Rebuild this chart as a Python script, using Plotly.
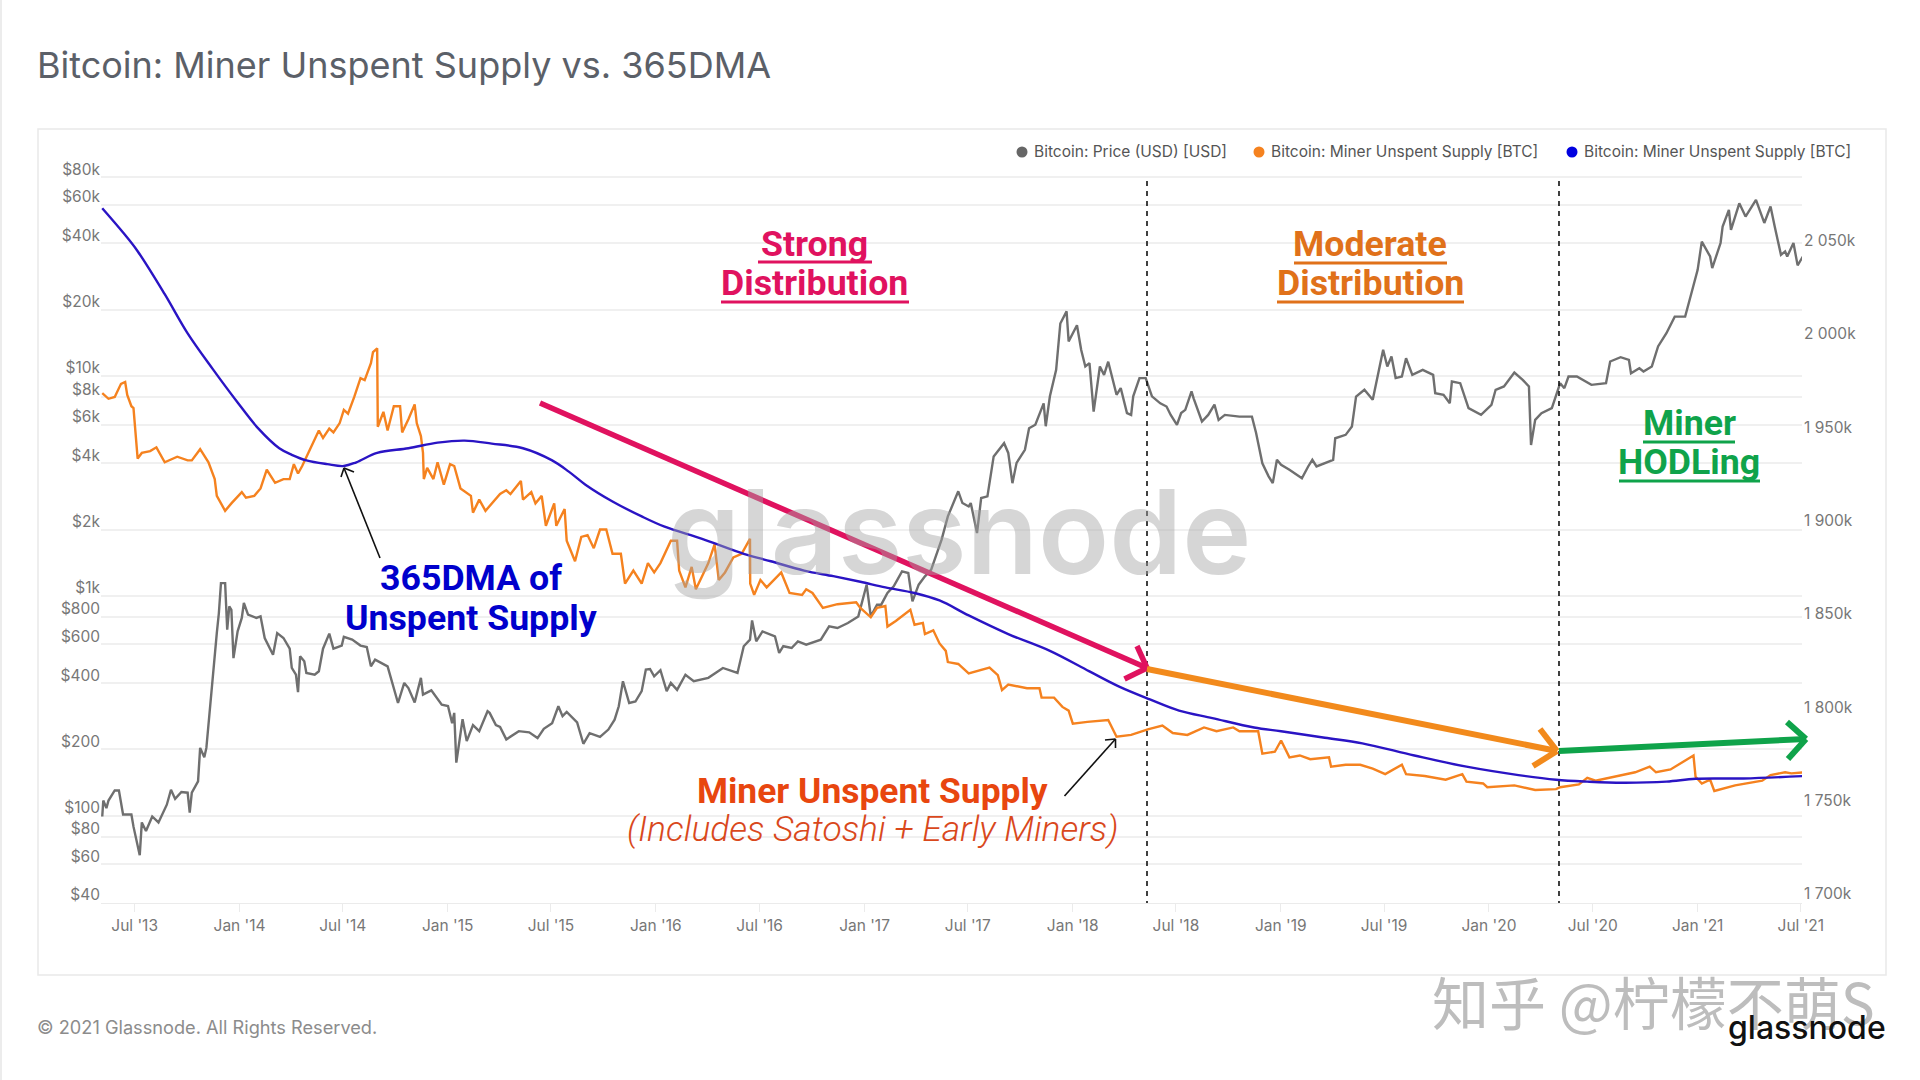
import pandas as pd
import plotly.graph_objects as go

W, H = 1920, 1080
L, R, T, B = 101, 1802, 156, 903

price_years = [2013.34,2013.345,2013.36,2013.37,2013.40,2013.42,2013.44,2013.48,2013.49,2013.52,2013.53,2013.55,2013.58,2013.61,2013.65,2013.67,2013.69,2013.72,2013.75,2013.76,2013.77,2013.80,2013.81,2013.83,2013.84,2013.86,2013.87,2013.89,2013.90,2013.91,2013.93,2013.94,2013.95,2013.96,2013.97,2013.99,2014.01,2014.02,2014.04,2014.08,2014.10,2014.12,2014.16,2014.18,2014.21,2014.24,2014.25,2014.27,2014.28,2014.29,2014.31,2014.32,2014.36,2014.38,2014.40,2014.43,2014.45,2014.49,2014.50,2014.54,2014.58,2014.61,2014.63,2014.65,2014.71,2014.73,2014.76,2014.79,2014.81,2014.84,2014.87,2014.88,2014.92,2014.97,2015.00,2015.02,2015.03,2015.04,2015.05,2015.07,2015.09,2015.12,2015.15,2015.19,2015.20,2015.23,2015.25,2015.28,2015.34,2015.39,2015.43,2015.46,2015.50,2015.53,2015.55,2015.57,2015.62,2015.65,2015.68,2015.73,2015.77,2015.80,2015.82,2015.84,2015.87,2015.90,2015.93,2015.95,2015.97,2015.99,2016.02,2016.05,2016.07,2016.10,2016.14,2016.18,2016.25,2016.32,2016.39,2016.42,2016.45,2016.46,2016.48,2016.51,2016.57,2016.59,2016.61,2016.65,2016.68,2016.72,2016.79,2016.83,2016.87,2016.92,2016.97,2017.01,2017.03,2017.06,2017.08,2017.11,2017.14,2017.18,2017.21,2017.23,2017.26,2017.29,2017.32,2017.37,2017.40,2017.45,2017.47,2017.50,2017.51,2017.54,2017.56,2017.59,2017.62,2017.67,2017.69,2017.71,2017.73,2017.77,2017.79,2017.82,2017.86,2017.87,2017.89,2017.92,2017.94,2017.97,2017.98,2018.02,2018.04,2018.06,2018.08,2018.10,2018.13,2018.15,2018.17,2018.21,2018.23,2018.26,2018.28,2018.29,2018.32,2018.35,2018.38,2018.42,2018.45,2018.47,2018.50,2018.52,2018.54,2018.57,2018.58,2018.62,2018.65,2018.68,2018.70,2018.73,2018.80,2018.86,2018.88,2018.91,2018.94,2018.96,2018.98,2019.00,2019.04,2019.10,2019.13,2019.15,2019.17,2019.25,2019.26,2019.31,2019.34,2019.36,2019.40,2019.44,2019.47,2019.49,2019.51,2019.53,2019.55,2019.58,2019.60,2019.63,2019.68,2019.73,2019.74,2019.78,2019.81,2019.82,2019.86,2019.90,2019.96,2020.01,2020.03,2020.07,2020.12,2020.16,2020.19,2020.20,2020.22,2020.25,2020.30,2020.34,2020.36,2020.38,2020.42,2020.49,2020.56,2020.58,2020.63,2020.67,2020.68,2020.72,2020.74,2020.78,2020.81,2020.85,2020.89,2020.94,2020.97,2021.00,2021.02,2021.06,2021.07,2021.11,2021.12,2021.15,2021.16,2021.20,2021.23,2021.28,2021.32,2021.35,2021.37,2021.40,2021.42,2021.43,2021.46,2021.48,2021.51]
price_usd = [99,117,108,117,130,130,101,101,89,66,93,85,99,93,112,131,119,128,127,103,127,143,203,184,203,337,415,676,834,1140,1140,700,895,863,520,688,792,926,820,792,805,642,539,676,642,574,469,437,364,530,503,445,437,453,574,672,574,593,650,631,593,584,477,512,477,408,325,401,380,327,423,355,371,319,315,263,293,174,206,274,218,258,242,298,293,258,253,222,242,239,225,248,263,314,283,296,265,212,237,228,246,273,314,408,325,330,368,461,464,430,458,368,401,373,437,408,423,469,445,589,631,772,620,688,653,549,589,578,620,599,631,725,713,751,805,1122,805,910,910,1028,1102,1290,1268,942,1122,1224,1313,1798,2295,2983,2639,2545,2639,1926,2780,2830,4300,4940,4460,3250,4020,4610,5780,5990,7500,5900,8070,10650,17300,19650,14350,17000,13150,11030,11430,6880,11030,10100,11600,8200,8800,6770,6640,8070,9760,9760,8070,7500,7250,6640,5990,6770,7000,8500,7900,6200,6640,7400,6300,6640,6520,6520,5500,4000,3490,3250,4150,3940,3740,3420,3870,4150,3870,4150,5200,5390,5880,8050,8640,7780,10650,13130,11020,12240,9770,9930,12030,10100,10650,10100,8340,8200,7510,9420,9260,7130,6650,7380,8640,8950,10350,9590,8950,4850,6310,6760,7130,9260,8790,9930,9930,9100,9260,11620,12160,11820,10280,10830,10460,11030,13600,15630,18600,18600,23750,30350,40800,34900,30900,40200,47800,56900,46100,60900,53000,63100,49600,58900,47800,35500,36800,34900,40200,31800,35500]

supply_years = [2013.34,2013.37,2013.40,2013.43,2013.45,2013.46,2013.48,2013.49,2013.51,2013.53,2013.57,2013.60,2013.64,2013.70,2013.75,2013.77,2013.81,2013.85,2013.88,2013.89,2013.93,2013.96,2014.01,2014.03,2014.07,2014.10,2014.13,2014.17,2014.21,2014.24,2014.26,2014.28,2014.30,2014.33,2014.36,2014.38,2014.40,2014.43,2014.45,2014.48,2014.50,2014.52,2014.55,2014.58,2014.60,2014.63,2014.64,2014.66,2014.663,2014.69,2014.71,2014.74,2014.77,2014.78,2014.81,2014.84,2014.85,2014.87,2014.88,2014.884,2014.90,2014.93,2014.95,2014.98,2015.01,2015.03,2015.06,2015.11,2015.12,2015.15,2015.18,2015.21,2015.25,2015.28,2015.30,2015.35,2015.36,2015.40,2015.42,2015.45,2015.47,2015.51,2015.52,2015.56,2015.57,2015.61,2015.64,2015.67,2015.70,2015.73,2015.76,2015.79,2015.83,2015.85,2015.89,2015.93,2015.96,2015.99,2016.02,2016.07,2016.10,2016.11,2016.14,2016.17,2016.19,2016.22,2016.25,2016.28,2016.30,2016.33,2016.37,2016.41,2016.45,2016.451,2016.47,2016.50,2016.53,2016.60,2016.64,2016.70,2016.72,2016.75,2016.80,2016.87,2016.96,2016.98,2017.03,2017.06,2017.10,2017.11,2017.15,2017.22,2017.24,2017.28,2017.29,2017.33,2017.36,2017.39,2017.40,2017.45,2017.50,2017.60,2017.64,2017.66,2017.69,2017.78,2017.84,2017.85,2017.91,2017.95,2017.98,2018.00,2018.07,2018.17,2018.21,2018.28,2018.36,2018.43,2018.48,2018.55,2018.63,2018.69,2018.77,2018.80,2018.89,2018.91,2018.97,2019.00,2019.04,2019.09,2019.14,2019.23,2019.24,2019.31,2019.38,2019.44,2019.50,2019.58,2019.60,2019.69,2019.79,2019.87,2019.89,2019.97,2019.99,2020.12,2020.22,2020.32,2020.34,2020.43,2020.47,2020.51,2020.61,2020.70,2020.77,2020.80,2020.87,2020.98,2020.99,2021.02,2021.06,2021.08,2021.18,2021.31,2021.35,2021.42,2021.45,2021.51]
supply_kbtc = [1973,1970,1971,1978,1979,1972,1966,1965,1938,1941,1942,1944,1936,1939,1937,1937,1943,1936,1927,1918,1910,1914,1920,1917,1918,1922,1932,1925,1927,1927,1935,1930,1934,1941,1948,1953,1949,1954,1952,1957,1964,1962,1971,1981,1980,1989,1995,1997,1955,1963,1953,1966,1966,1952,1959,1967,1957,1950,1941,1927,1933,1927,1936,1924,1935,1934,1922,1918,1909,1916,1910,1914,1919,1921,1919,1926,1916,1920,1914,1918,1902,1914,1902,1911,1894,1883,1896,1897,1890,1900,1900,1887,1887,1871,1878,1871,1882,1877,1882,1894,1894,1878,1869,1880,1868,1875,1882,1892,1873,1877,1885,1887,1895,1871,1865,1873,1869,1877,1866,1865,1868,1866,1858,1860,1861,1858,1853,1858,1859,1848,1851,1857,1849,1850,1844,1846,1839,1835,1829,1828,1823,1826,1822,1814,1817,1815,1815,1810,1810,1805,1803,1796,1797,1798,1789,1790,1793,1795,1791,1790,1794,1792,1794,1792,1792,1780,1781,1787,1778,1779,1777,1778,1773,1774,1774,1772,1769,1774,1769,1768,1766,1769,1765,1764,1762,1763,1760.5,1761,1762,1763.5,1767,1765.5,1768,1770,1773,1770,1771.5,1779,1767.6,1764,1766,1760,1763,1765.5,1768.5,1770,1769.4,1770]

dma_years = [2013.34,2013.44,2013.51,2013.64,2013.75,2013.87,2013.99,2014.09,2014.19,2014.25,2014.32,2014.42,2014.50,2014.56,2014.66,2014.81,2014.95,2015.08,2015.21,2015.36,2015.50,2015.58,2015.66,2015.79,2015.93,2016.04,2016.22,2016.42,2016.55,2016.71,2016.85,2016.98,2017.10,2017.24,2017.36,2017.50,2017.69,2017.89,2018.08,2018.22,2018.37,2018.51,2018.67,2018.87,2019.00,2019.21,2019.39,2019.64,2019.89,2020.14,2020.32,2020.47,2020.64,2020.85,2020.99,2021.22,2021.51]
dma_kbtc = [2072,2059,2049,2026,2005,1986,1968,1954,1943.5,1940,1937,1935,1934,1936,1941,1943.5,1946.5,1947.6,1946,1943.5,1937,1931,1924,1915,1907,1901.5,1895,1887,1883,1878,1875,1872,1869,1866,1862,1854,1844,1835,1824,1816,1809,1803,1799,1794,1792,1788.5,1785.5,1779,1773,1768.5,1766,1765,1764.4,1765,1766.5,1766.7,1768]

x_tick_dates = ["2013-07-01","2014-01-01","2014-07-01","2015-01-01","2015-07-01","2016-01-01","2016-07-01","2017-01-01","2017-07-01","2018-01-01","2018-07-01","2019-01-01","2019-07-01","2020-01-01","2020-07-01","2021-01-01","2021-07-01"]
x_tick_labels = ["Jul '13","Jan '14","Jul '14","Jan '15","Jul '15","Jan '16","Jul '16","Jan '17","Jul '17","Jan '18","Jul '18","Jan '19","Jul '19","Jan '20","Jul '20","Jan '21","Jul '21"]
price_ticks = [40,60,80,100,200,400,600,800,1000,2000,4000,6000,8000,10000,20000,40000,60000,80000,100000]
price_labels = ["$40","$60","$80","$100","$200","$400","$600","$800","$1k","$2k","$4k","$6k","$8k","$10k","$20k","$40k","$60k","$80k",""]
supply_ticks = [1700,1750,1800,1850,1900,1950,2000,2050,2100]
supply_labels = ["1 700k","1 750k","1 800k","1 850k","1 900k","1 950k","2 000k","2 050k",""]


def to_dates(years):
    return [pd.Timestamp("2013-01-01") + pd.Timedelta(days=(y - 2013) * 365.25) for y in years]


def px(x):
    return (x - L) / (R - L)


def py(y):
    return (B - y) / (B - T)


fig = go.Figure()
fig.add_trace(go.Scatter(x=to_dates(price_years), y=price_usd, name="Bitcoin: Price (USD) [USD]", mode="lines",
                         line=dict(color="#6f6f6f", width=2.4), yaxis="y"))
fig.add_trace(go.Scatter(x=to_dates(supply_years), y=supply_kbtc, name="Bitcoin: Miner Unspent Supply [BTC]", mode="lines",
                         line=dict(color="#F5821F", width=2.4), yaxis="y2"))
fig.add_trace(go.Scatter(x=to_dates(dma_years), y=dma_kbtc, name="Bitcoin: Miner Unspent Supply [BTC]", mode="lines",
                         line=dict(color="#2A14C4", width=2.4, shape="spline"), yaxis="y2"))

shapes = []
annotations = []


def seg(p, q, color, width, dash=None):
    shapes.append(dict(type="line", xref="paper", yref="paper", x0=px(p[0]), y0=py(p[1]), x1=px(q[0]), y1=py(q[1]),
                       line=dict(color=color, width=width, dash=dash)))


def arrow(tail, tip, arm1, arm2, color, width):
    seg(tail, tip, color, width)
    seg(arm1, tip, color, width)
    seg(arm2, tip, color, width)


def text(x, y, s, size, color, anchor="center", family="Roboto", weight=400, italic=False):
    annotations.append(dict(xref="paper", yref="paper", x=px(x), y=py(y), text=s, showarrow=False, xanchor=anchor,
                            yanchor="middle", font=dict(family=family, size=size, color=color, weight=weight,
                                                        style="italic" if italic else "normal")))


# page furniture
shapes.append(dict(type="rect", xref="paper", yref="paper", x0=px(38), y0=py(129), x1=px(1886), y1=py(975),
                   line=dict(color="#e9e9e9", width=1.5), layer="below"))
shapes.append(dict(type="rect", xref="paper", yref="paper", x0=px(0), y0=py(0), x1=px(2), y1=py(1080),
                   line=dict(width=0), fillcolor="#ececec", layer="below"))

# watermarks and titles
text(35, 65, "Bitcoin: Miner Unspent Supply vs. 365DMA", 36, "#5b6068", anchor="left", family="Inter")
text(35, 1027, "© 2021 Glassnode. All Rights Reserved.", 18.2, "#8c8c8c", anchor="left", family="Inter")
text(960, 531, "glassnode", 117, "rgba(165,165,165,0.45)", family="Inter", weight=600)
text(1653, 1000, "知乎 @柠檬不萌S", 57, "#bdbdbd", family="Noto Sans CJK SC")
text(1807, 1027, "glassnode", 32, "#111111", family="Inter", weight=500)

# legend row
for dot_x, lab_x, col, lab in [(1022, 1032, "#666666", "Bitcoin: Price (USD) [USD]"),
                               (1259, 1269, "#F5821F", "Bitcoin: Miner Unspent Supply [BTC]"),
                               (1572, 1582, "#0000E0", "Bitcoin: Miner Unspent Supply [BTC]")]:
    shapes.append(dict(type="circle", xref="paper", yref="paper", x0=px(dot_x - 5.5), x1=px(dot_x + 5.5),
                       y0=py(157.5), y1=py(146.5), fillcolor=col, line=dict(width=0)))
    text(lab_x, 152, lab, 15.5, "#555555", anchor="left", family="Inter")

# halving lines
for vx in (1147, 1559):
    seg((vx, 181), (vx, 903), "#111111", 1.6, "5px,5px")

# big arrows
PINK, ORANGE, GREEN = "#E0125F", "#F28A1C", "#0FA34A"
arrow((540, 403), (1147, 668), (1137, 646), (1124.5, 679), PINK, 5.5)
arrow((1147, 669), (1557, 751), (1540, 729), (1533, 766), ORANGE, 6)
arrow((1559, 751), (1806, 739), (1787, 722), (1788, 759), GREEN, 6)

# thin call-out arrows
arrow((380, 558), (344, 468), (341, 477), (354, 472), "#111111", 1.6)
arrow((1064.5, 796), (1115.5, 739), (1105, 740), (1115.5, 748), "#111111", 1.6)

# region labels with hand-drawn underlines
text(814.5, 244, "Strong", 35.7, PINK, weight=700)
text(814.5, 283, "Distribution", 35.7, PINK, weight=700)
seg((758, 262), (872, 262), PINK, 3)
seg((721, 302), (909, 302), PINK, 3)
MOD = "#E0711A"
text(1370, 244, "Moderate", 35.7, MOD, weight=700)
text(1370, 283, "Distribution", 35.7, MOD, weight=700)
seg((1294, 263), (1447, 263), MOD, 3)
seg((1277, 302), (1464, 302), MOD, 3)
text(1689, 423, "Miner", 35.7, GREEN, weight=700)
text(1689, 462, "HODLing", 35.7, GREEN, weight=700)
seg((1643, 442), (1735, 442), GREEN, 3)
seg((1619, 481), (1760, 481), GREEN, 3)
text(471, 578, "365DMA of", 35.7, "#0000CC", weight=700)
text(471, 618, "Unspent Supply", 35.7, "#0000CC", weight=700)
text(872, 791, "Miner Unspent Supply", 35.4, "#E8460F", weight=700)
text(872, 829, "(Includes Satoshi + Early Miners)", 35.4, "#D9481C", weight=300, italic=True)

tick_font = dict(family="Inter", size=15.5, color="#777777")
fig.update_layout(
    width=W, height=H, paper_bgcolor="white", plot_bgcolor="white", showlegend=False,
    margin=dict(l=L, r=W - R, t=T, b=H - B, autoexpand=False),
    shapes=shapes, annotations=annotations,
    xaxis=dict(type="date", range=["2013-05-03", "2021-07-03"], tickmode="array", tickvals=x_tick_dates,
               ticktext=x_tick_labels, tickfont=tick_font, showgrid=False, ticks="outside", ticklen=8, tickcolor="#ebebeb",
               showline=True, linecolor="#ebebeb", zeroline=False),
    yaxis=dict(type="log", range=[1.60206, 5], tickmode="array", tickvals=price_ticks, ticktext=price_labels,
               tickfont=tick_font, showgrid=True, gridcolor="#f0f0f0", gridwidth=1.5, zeroline=False, ticklen=0,
               ticklabelshift=-8, ticklabelstandoff=0),
    yaxis2=dict(overlaying="y", side="right", range=[1700, 2100], tickmode="array", tickvals=supply_ticks,
                ticktext=supply_labels, tickfont=tick_font, showgrid=False, zeroline=False, ticklen=0,
                ticklabelshift=-9, ticklabelstandoff=1),
)
fig.write_html("out.html", config=dict(displayModeBar=False),
               post_script="document.body.style.margin='0';document.body.style.overflow='hidden';")
